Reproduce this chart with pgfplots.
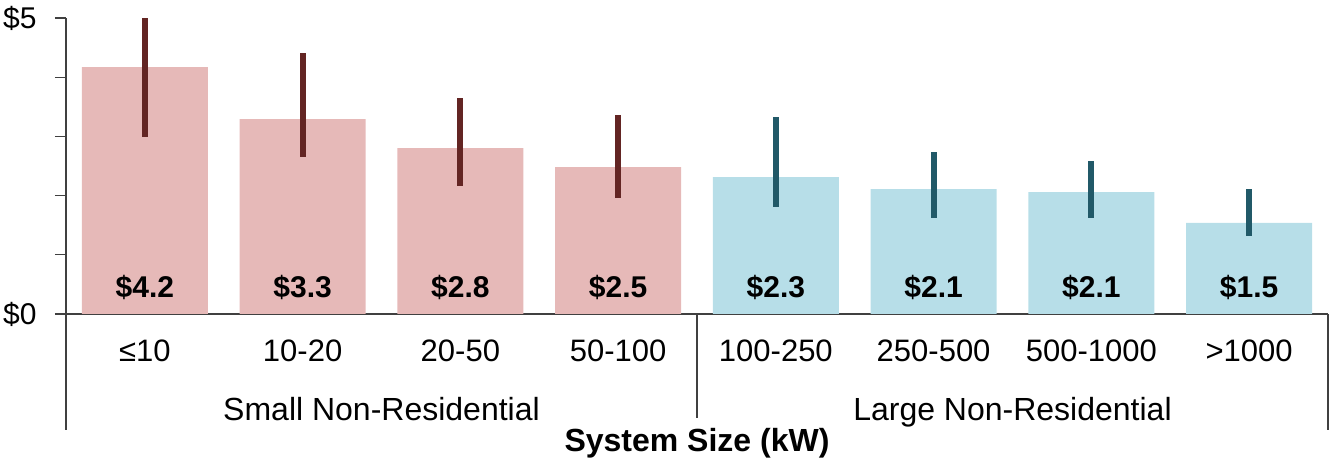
\documentclass[border=0pt]{standalone}
\usepackage{pgfplots}
\pgfplotsset{compat=1.18}
\usepackage{fontspec}
\setmainfont{Liberation Sans}
\definecolor{pinkbar}{HTML}{E6B9B8}
\definecolor{redline}{HTML}{632523}
\definecolor{bluebar}{HTML}{B7DEE8}
\definecolor{blueline}{HTML}{215968}
\definecolor{axisgray}{HTML}{404040}
\newcommand\lbl{\fontsize{16}{19}\selectfont}
\newcommand\clbl{\fontsize{15.5}{18}\selectfont}
\newcommand\vlbl{\fontsize{15}{18}\selectfont}
\begin{document}
\begin{tikzpicture}
\useasboundingbox (0,0) rectangle (665.5pt,229pt);
\begin{axis}[
  at={(33pt,72pt)}, anchor=south west,
  scale only axis, width=631pt, height=148pt,
  xmin=-0.5, xmax=7.5, ymin=0, ymax=5,
  axis x line*=bottom, axis y line*=left,
  axis line style={-, draw=axisgray, line width=0.6pt},
  ytick={0,1,2,3,4,5}, yticklabels={\$0,,,,,\$5},
  xtick={0,1,2,3,4,5,6,7},
  xticklabels={≤10,10-20,20-50,50-100,100-250,250-500,500-1000,>1000},
  xtick style={draw=none},
  ytick style={draw=axisgray, line width=0.6pt},
  tick align=outside, major tick length=5.5pt,
  xticklabel style={font=\clbl, anchor=base, yshift=-18.5pt, inner sep=0pt},
  yticklabel style={font=\vlbl, anchor=east, inner sep=0pt, xshift=-9pt},
  clip=false,
]
\addplot[ybar, bar width=63pt, bar shift=0pt, fill=pinkbar, draw=none,
  error bars/.cd, y dir=both, y explicit, error mark=none,
  error bar style={line width=3pt, draw=redline}]
  coordinates {
  (0,4.17) += (0,0.83) -= (0,1.18)
  (1,3.29) += (0,1.12) -= (0,0.64)
  (2,2.80) += (0,0.85) -= (0,0.64)
  (3,2.48) += (0,0.88) -= (0,0.52)
  };
\addplot[ybar, bar width=63pt, bar shift=0pt, fill=bluebar, draw=none,
  error bars/.cd, y dir=both, y explicit, error mark=none,
  error bar style={line width=3pt, draw=blueline}]
  coordinates {
  (4,2.31) += (0,1.02) -= (0,0.50)
  (5,2.11) += (0,0.63) -= (0,0.49)
  (6,2.06) += (0,0.52) -= (0,0.44)
  (7,1.54) += (0,0.57) -= (0,0.22)
  };
% value labels
\node[anchor=base, font=\vlbl\bfseries, yshift=8pt] at (axis cs:0,0) {\$4.2};
\node[anchor=base, font=\vlbl\bfseries, yshift=8pt] at (axis cs:1,0) {\$3.3};
\node[anchor=base, font=\vlbl\bfseries, yshift=8pt] at (axis cs:2,0) {\$2.8};
\node[anchor=base, font=\vlbl\bfseries, yshift=8pt] at (axis cs:3,0) {\$2.5};
\node[anchor=base, font=\vlbl\bfseries, yshift=8pt] at (axis cs:4,0) {\$2.3};
\node[anchor=base, font=\vlbl\bfseries, yshift=8pt] at (axis cs:5,0) {\$2.1};
\node[anchor=base, font=\vlbl\bfseries, yshift=8pt] at (axis cs:6,0) {\$2.1};
\node[anchor=base, font=\vlbl\bfseries, yshift=8pt] at (axis cs:7,0) {\$1.5};
% group separators
\draw[axisgray, line width=0.6pt] (axis cs:-0.5,0) -- ([yshift=-58pt]axis cs:-0.5,0);
\draw[axisgray, line width=0.6pt] (axis cs:3.5,0) -- ([yshift=-52pt]axis cs:3.5,0);
\draw[axisgray, line width=0.6pt] (axis cs:7.5,0) -- ([yshift=-58pt]axis cs:7.5,0);
% group labels
\node[anchor=base, font=\lbl, yshift=-53.5pt] at (axis cs:1.5,0) {Small Non-Residential};
\node[anchor=base, font=\lbl, yshift=-53.5pt] at (axis cs:5.5,0) {Large Non-Residential};
% axis title
\node[anchor=base, font=\lbl\bfseries, yshift=-69pt] at (axis cs:3.5,0) {System Size (kW)};
\end{axis}
\end{tikzpicture}
\end{document}
